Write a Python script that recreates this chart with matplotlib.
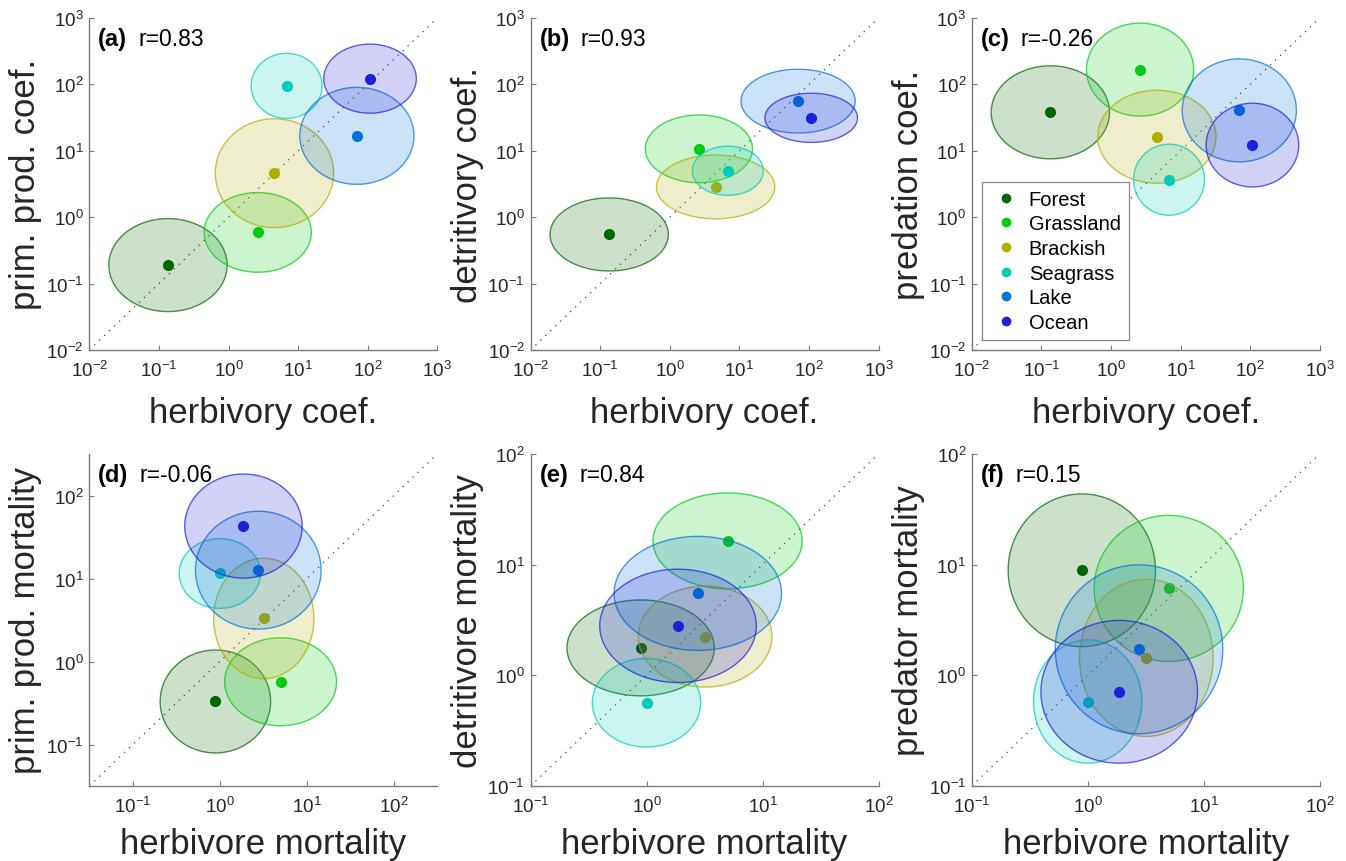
import numpy as np
import matplotlib
matplotlib.use("Agg")
import matplotlib.pyplot as plt
from matplotlib.lines import Line2D
from matplotlib.ticker import NullLocator, FixedLocator, LogFormatterSciNotation

plt.rcParams['font.family'] = ['Liberation Sans', 'DejaVu Sans']
plt.rcParams['mathtext.fontset'] = 'custom'
plt.rcParams['mathtext.rm'] = 'Liberation Sans'
plt.rcParams['mathtext.default'] = 'regular'

# ---------------- data ----------------
habitats = ["Forest", "Grassland", "Brackish", "Seagrass", "Lake", "Ocean"]
colors = ["#006600", "#00cc11", "#b3ad00", "#00ccb8", "#0073d9", "#1f1fd9"]

# geometric means and spreads (in decades, log10 units)
herbivory_coef = [0.135, 2.63, 4.57, 6.84, 70.0, 108.0]
herbivory_coef_sd = [0.85, 0.77, 0.85, 0.51, 0.82, 0.665]
primprod_coef = [0.19, 0.59, 4.6, 95.0, 16.8, 122.0]
primprod_coef_sd = [0.70, 0.60, 0.82, 0.49, 0.73, 0.52]
detritivory_coef = [0.55, 10.7, 2.86, 5.0, 56.0, 31.4]
detritivory_coef_sd = [0.55, 0.51, 0.48, 0.37, 0.48, 0.37]
predation_coef = [38.0, 167.0, 16.3, 3.67, 40.6, 12.2]
predation_coef_sd = [0.70, 0.70, 0.70, 0.535, 0.775, 0.63]

herbivore_mort = [0.89, 5.0, 3.2, 1.0, 2.77, 1.87]
herbivore_mort_sd = [0.635, 0.643, 0.576, 0.467, 0.722, 0.675]
primprod_mort = [0.33, 0.57, 3.3, 11.5, 12.6, 42.8]
primprod_mort_sd = [0.62, 0.53, 0.725, 0.42, 0.71, 0.627]
detritivore_mort = [1.77, 16.4, 2.24, 0.565, 5.5, 2.8]
detritivore_mort_sd = [0.433, 0.433, 0.456, 0.40, 0.515, 0.512]
predator_mort = [8.9, 6.1, 1.44, 0.58, 1.72, 0.71]
predator_mort_sd = [0.69, 0.66, 0.71, 0.557, 0.763, 0.645]

panel_letters = ["(a)", "(b)", "(c)", "(d)", "(e)", "(f)"]
r_values = ["0.83", "0.93", "-0.26", "-0.06", "0.84", "0.15"]
xlabels = ["herbivory coef."] * 3 + ["herbivore mortality"] * 3
ylabels = ["prim. prod. coef.", "detritivory coef.", "predation coef.",
           "prim. prod. mortality", "detritivore mortality", "predator mortality"]
limits_exp = [(-2, 3), (-2, 3), (-2, 3), (-1.5, 2.5), (-1, 2), (-1, 2)]
tick_exp = [range(-2, 4), range(-2, 4), range(-2, 4), range(-1, 3), range(-1, 3), range(-1, 3)]

panels = [
    (herbivory_coef, herbivory_coef_sd, primprod_coef, primprod_coef_sd),
    (herbivory_coef, herbivory_coef_sd, detritivory_coef, detritivory_coef_sd),
    (herbivory_coef, herbivory_coef_sd, predation_coef, predation_coef_sd),
    (herbivore_mort, herbivore_mort_sd, primprod_mort, primprod_mort_sd),
    (herbivore_mort, herbivore_mort_sd, detritivore_mort, detritivore_mort_sd),
    (herbivore_mort, herbivore_mort_sd, predator_mort, predator_mort_sd),
]

# ---------------- figure ----------------
W, H = 1346, 862
fig = plt.figure(figsize=(W / 100, H / 100), dpi=100)
lefts = [89.3, 530.5, 971.7]
bottoms = [351, 787]
xlabel_gap = [46, 41]
aw, ah = 348, 332
axis_col = "#7a7a7a"
text_col = "#262626"

theta = np.linspace(0, 2 * np.pi, 300)
for i in range(6):
    r, c = divmod(i, 3)
    ax = fig.add_axes([lefts[c] / W, 1 - bottoms[r] / H, aw / W, ah / H])
    ax.set_xscale('log')
    ax.set_yscale('log')
    lo, hi = limits_exp[i]
    ax.set_xlim(10 ** lo, 10 ** hi)
    ax.set_ylim(10 ** lo, 10 ** hi)

    ax.plot([10 ** lo, 10 ** hi], [10 ** lo, 10 ** hi], linestyle=(0, (1, 4.5)),
            color="#444444", lw=0.9, zorder=1)

    xm, xs, ym, ys = panels[i]
    for k in range(len(habitats)):
        cx, cy = np.log10(xm[k]), np.log10(ym[k])
        ex = 10 ** (cx + xs[k] * np.cos(theta))
        ey = 10 ** (cy + ys[k] * np.sin(theta))
        col = matplotlib.colors.to_rgb(colors[k])
        ax.fill(ex, ey, facecolor=(*col, 0.2), edgecolor=(*col, 0.7), lw=1.0,
                zorder=2 + 2 * k)
        ax.plot([xm[k]], [ym[k]], 'o', color=colors[k], ms=8, mec='none',
                zorder=3 + 2 * k)

    for side in ['top', 'right']:
        ax.spines[side].set_visible(False)
    for side in ['left', 'bottom']:
        ax.spines[side].set_color(axis_col)
        ax.spines[side].set_linewidth(1.0)

    ticks = [10.0 ** e for e in tick_exp[i]]
    ax.xaxis.set_major_locator(FixedLocator(ticks))
    ax.yaxis.set_major_locator(FixedLocator(ticks))
    ax.xaxis.set_minor_locator(NullLocator())
    ax.yaxis.set_minor_locator(NullLocator())
    ax.xaxis.set_major_formatter(LogFormatterSciNotation())
    ax.yaxis.set_major_formatter(LogFormatterSciNotation())
    ax.tick_params(direction='in', length=3.5, width=0.8, color=axis_col,
                   labelsize=13.5, labelcolor=text_col)
    ax.tick_params(axis='x', pad=7)
    ax.tick_params(axis='y', pad=4)

    ax.set_xlabel(xlabels[i], fontsize=25, color=text_col, va='top')
    ax.xaxis.set_label_coords(0.5, -xlabel_gap[r] / ah)
    ax.set_ylabel(ylabels[i], fontsize=25, color=text_col)
    ax.yaxis.set_label_coords(-47 / aw, 0.5)

    lab = ax.text(0.026, 1 - 21 / ah, panel_letters[i], transform=ax.transAxes,
                  fontsize=17, fontweight='bold', color='black', va='center',
                  ha='left', zorder=20)
    ax.annotate("r=" + r_values[i], xy=(1, 0.5), xycoords=lab, xytext=(8, 0),
                textcoords='offset points', fontsize=16.5, color='black',
                va='center', ha='left', zorder=20)

    if i == 2:
        handles = [Line2D([], [], marker='o', ls='none', color=colors[k],
                          ms=7, mec='none') for k in range(len(habitats))]
        leg = ax.legend(handles, habitats, loc='lower left',
                        bbox_to_anchor=(0.029, 0.030), borderaxespad=0,
                        fontsize=14.5, frameon=True, fancybox=False,
                        handlelength=1.6, handletextpad=0.33, labelspacing=0.28,
                        borderpad=0.4)
        leg.get_frame().set_edgecolor("#888888")
        leg.get_frame().set_linewidth(0.9)
        leg.get_frame().set_facecolor('white')
        leg.get_frame().set_alpha(1)
        leg.set_zorder(30)

fig.savefig("out.png", dpi=100)
